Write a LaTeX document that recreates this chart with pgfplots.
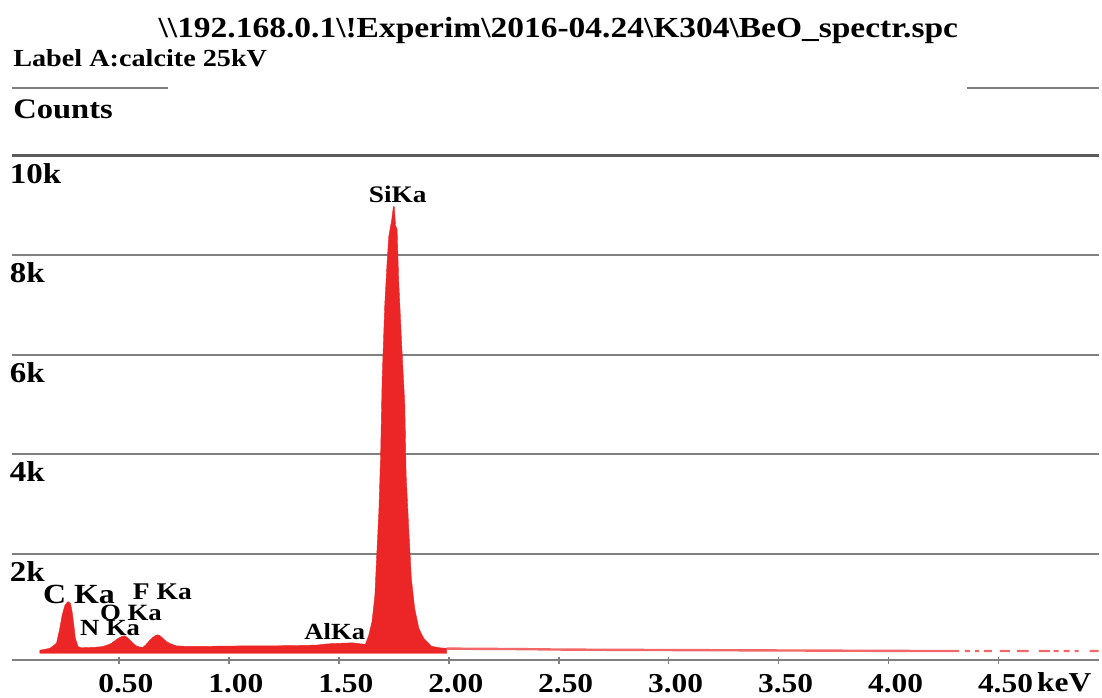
\documentclass[border=0pt]{standalone}
\usepackage{fontspec}
\setmainfont{Liberation Serif}
\usepackage{graphicx}
\usepackage{pgfplots}
\pgfplotsset{compat=1.18}
\definecolor{spred}{RGB}{236,38,38}
\definecolor{grd}{RGB}{128,128,128}
\definecolor{grdd}{RGB}{90,90,90}
\newcommand{\sx}[1]{\scalebox{1.15}[1]{#1}}
\newcommand{\fs}[1]{\fontsize{#1}{#1}\selectfont\bfseries}
\begin{document}
\begin{tikzpicture}
\begin{axis}[
 scale only axis, width=545bp, height=253bp,
 xmin=0.0136, xmax=4.9547, ymin=-140, ymax=10000,
 clip=false,
 axis line style={draw=none},
 scaled y ticks=false, scaled x ticks=false,
 xtick={0.5,1,1.5,2,2.5,3,3.5,4,4.5},
 xticklabels={\sx{0.50},\sx{1.00},\sx{1.50},\sx{2.00},\sx{2.50},\sx{3.00},\sx{3.50},\sx{4.00},\sx{4.50}},
 xtick pos=left, tick align=center,
 major tick length=3.5bp,
 xtick style={grd, line width=0.8bp},
 xticklabel style={font=\fs{13.7bp}, anchor=base, inner sep=0pt, yshift=-14.3bp, xshift=3.5bp},
 ytick={2000,4000,6000,8000,10000},
 yticklabels={\sx{2k},\sx{4k},\sx{6k},\sx{8k},\sx{10k}},
 ytick style={draw=none},
 yticklabel style={font=\fs{14.4bp}, anchor=base west, inner sep=0pt, yshift=-13.8bp, xshift=0.5bp},
 ymajorgrids, major grid style={grd, line width=1bp},
]
% invisible frame for picture size
\path[draw=none] (axis cs:-0.0408,-882) rectangle (axis cs:4.9547,13133);
% main spectrum
\addplot[draw=spred, fill=spred, line width=0.2bp] table {
x y
0.140 60
0.186 100
0.216 200
0.231 500
0.242 770
0.254 960
0.262 1010
0.269 1040
0.280 1000
0.287 840
0.295 570
0.302 300
0.314 135
0.330 110
0.352 114
0.390 120
0.426 135
0.450 170
0.466 200
0.496 300
0.515 340
0.526 350
0.538 320
0.549 270
0.565 200
0.579 150
0.595 125
0.609 120
0.620 160
0.632 220
0.654 320
0.667 360
0.677 370
0.688 350
0.700 300
0.715 240
0.730 200
0.760 150
0.800 140
0.900 140
1.000 145
1.100 150
1.200 150
1.300 155
1.400 165
1.450 190
1.500 200
1.560 210
1.600 190
1.621 180
1.636 360
1.651 640
1.664 1165
1.671 1845
1.682 2850
1.690 3970
1.697 5515
1.709 7020
1.720 7900
1.727 8380
1.740 8700
1.748 8980
1.752 8980
1.758 8600
1.765 8520
1.772 7520
1.786 6200
1.800 5000
1.806 3600
1.818 2500
1.830 1500
1.845 900
1.864 500
1.886 300
1.922 140
1.960 110
1.990 100
} \closedcycle;
% tail
\addplot[spred!70, line width=1.2bp, unbounded coords=jump] coordinates {
(1.99,95) (2.1,90) (2.3,85) (2.5,75) (2.7,70) (3.0,65) (3.3,60) (3.6,55) (3.9,50) (4.2,45) (4.32,45) (4.34,nan)
(4.347,45) (4.37,45) (4.38,nan) (4.393,45) (4.411,45) (4.42,nan) (4.433,45) (4.47,45) (4.49,nan)
(4.506,45) (4.551,45) (4.57,nan) (4.583,45) (4.637,45) (4.66,nan) (4.683,45) (4.733,45) (4.74,nan)
(4.751,45) (4.773,45) (4.78,nan) (4.796,45) (4.823,45) (4.83,nan) (4.846,45) (4.864,45) (4.88,nan)
(4.914,45) (4.955,45)
};
% axis lines
\draw[grd, line width=1bp] (axis cs:0.0136,-140) -- (axis cs:4.9547,-140);
\draw[grdd, line width=1.6bp] (axis cs:0.0136,10000) -- (axis cs:4.9547,10000);
\draw[grd, line width=1bp] (axis cs:0.0136,11368) -- (axis cs:0.721,11368);
\draw[grd, line width=1bp] (axis cs:4.356,11368) -- (axis cs:4.9547,11368);
% texts
\node[anchor=base, inner sep=0pt, font=\fs{14.6bp}] at (axis cs:2.498,12371) {\sx{\textbackslash\textbackslash192.168.0.1\textbackslash!Experim\textbackslash2016-04.24\textbackslash K304\textbackslash BeO\_spectr.spc}};
\node[anchor=base west, inner sep=0pt, font=\fs{12.3bp}] at (axis cs:0.018,11789) {\sx{Label A:calcite 25kV}};
\node[anchor=base west, inner sep=0pt, font=\fs{14.2bp}] at (axis cs:0.018,10747) {\sx{Counts}};
\node[anchor=base west, inner sep=0pt, font=\fs{13.7bp}] at (axis cs:4.674,-760) {\sx{keV}};
\node[anchor=base, inner sep=0pt, font=\fs{11.9bp}] at (axis cs:1.768,9063) {\sx{SiKa}};
\node[anchor=base west, inner sep=0pt, font=\fs{13.9bp}] at (axis cs:0.154,1003) {\sx{C Ka}};
\node[anchor=base west, inner sep=0pt, font=\fs{12bp}] at (axis cs:0.562,1089) {\sx{F Ka}};
\node[anchor=base west, inner sep=0pt, font=\fs{11.7bp}] at (axis cs:0.4125,668) {\sx{O Ka}};
\node[anchor=base west, inner sep=0pt, font=\fs{11.6bp}] at (axis cs:0.322,367) {\sx{N Ka}};
\node[anchor=base west, inner sep=0pt, font=\fs{11.6bp}] at (axis cs:1.342,267) {\sx{AlKa}};
\end{axis}
\end{tikzpicture}
\end{document}
